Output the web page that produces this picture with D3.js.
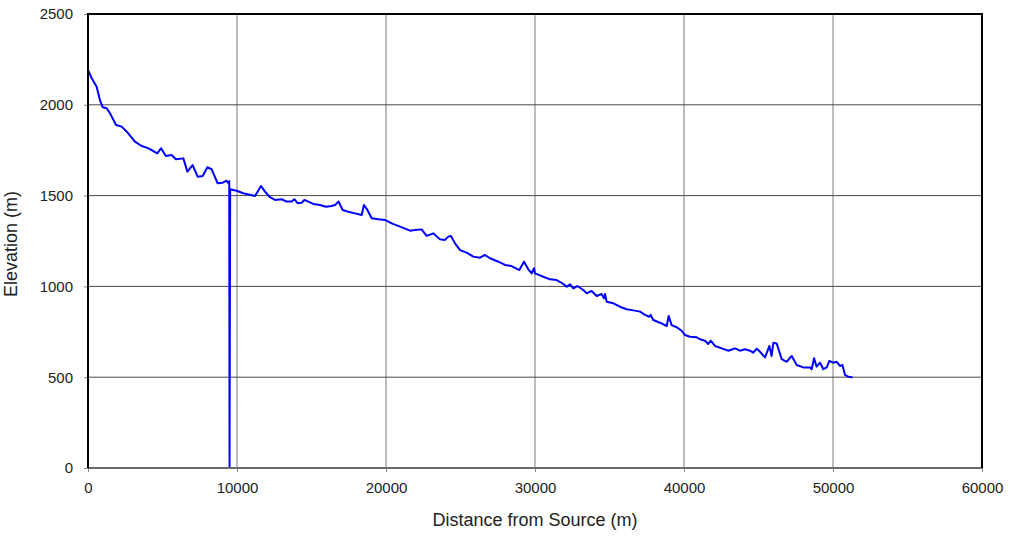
<!DOCTYPE html>
<html>
<head>
<meta charset="utf-8">
<script src="https://cdn.jsdelivr.net/npm/d3@7"></script>
<style>
  body { margin: 0; background: #fff; }
  text { font-family: "Liberation Sans", Arial, sans-serif; fill: #222; }
</style>
</head>
<body>
<div id="chart"></div>
<script>
// Elevation profile
const distance = [0, 250, 580, 800, 990, 1250, 1480, 1880, 2260, 2600, 3150, 3600, 3940, 4270, 4650, 4900,
  5230, 5610, 5900, 6400, 6670, 7020, 7360, 7700, 8010, 8300, 8700, 9040, 9300, 9420, 9480, 9500, 9540,
  9980, 10420, 11210, 11610, 11880, 12210, 12550, 13000, 13330, 13670, 13850, 14070, 14340, 14520, 14790,
  15120, 15570, 15970, 16350, 16580, 16820, 17090, 17470, 17920, 18370, 18520, 18750, 19040, 19490, 19930,
  20380, 20940, 21610, 21950, 22390, 22730, 23180, 23620, 23960, 24180, 24360, 24630, 24970, 25410, 25860,
  26310, 26640, 26980, 27540, 27990, 28430, 28950, 29260, 29550, 29780, 29930, 30000, 30560, 31010, 31450,
  31790, 32130, 32350, 32570, 32840, 33240, 33470, 33800, 34140, 34470, 34630, 34700, 34810, 35260, 35700,
  36150, 36600, 37050, 37380, 37670, 37760, 37940, 38390, 38840, 38970, 39170, 39510, 39840, 40070, 40400,
  40850, 41070, 41410, 41630, 41790, 42080, 42530, 42980, 43420, 43760, 44090, 44430, 44650, 44880, 45100,
  45440, 45730, 45880, 46000, 46220, 46560, 46890, 47230, 47560, 48010, 48460, 48570, 48730, 48900, 49130,
  49350, 49580, 49750, 50020, 50250, 50470, 50630, 50810, 51030, 51320];
const elevation = [2192, 2146, 2100, 2026, 1986, 1981, 1953, 1889, 1880, 1852, 1797, 1773, 1764, 1751, 1733, 1760,
  1718, 1724, 1700, 1705, 1632, 1668, 1604, 1608, 1656, 1645, 1568, 1571, 1582, 1568, 1580, 0, 1535,
  1527, 1513, 1498, 1553, 1522, 1491, 1476, 1480, 1467, 1467, 1480, 1458, 1461, 1476, 1467,
  1454, 1448, 1439, 1443, 1448, 1467, 1421, 1411, 1402, 1393, 1448, 1421, 1375, 1370, 1366,
  1347, 1329, 1307, 1311, 1314, 1278, 1292, 1259, 1256, 1274, 1278, 1237, 1200, 1186, 1164,
  1158, 1173, 1155, 1136, 1118, 1112, 1090, 1136, 1094, 1072, 1100, 1072, 1053, 1039, 1035,
  1020, 998, 1011, 989, 1002, 980, 962, 975, 947, 958, 934, 958, 916, 907, 888,
  874, 868, 861, 843, 833, 843, 815, 800, 782, 837, 787, 775, 756, 732, 723,
  720, 709, 701, 683, 701, 672, 659, 646, 659, 646, 654, 646, 635, 657, 640,
  609, 672, 617, 690, 686, 599, 585, 617, 567, 554, 554, 544, 604, 558, 580,
  544, 554, 589, 580, 585, 562, 567, 512, 503, 499];
const xTicks = [0, 10000, 20000, 30000, 40000, 50000, 60000];
const yTicks = [0, 500, 1000, 1500, 2000, 2500];

const W = 1015, H = 536;
const margin = { top: 14, right: 33, bottom: 68, left: 88 };
const iw = W - margin.left - margin.right;
const ih = H - margin.top - margin.bottom;

const svg = d3.select('#chart').append('svg')
    .attr('width', W)
    .attr('height', H);

const g = svg.append('g')
    .attr('transform', `translate(${margin.left},${margin.top})`);

const x = d3.scaleLinear().domain([0, 60000]).range([0, iw]);
const y = d3.scaleLinear().domain([0, 2500]).range([ih, 0]);

// grid
g.append('g')
    .selectAll('line')
    .data(xTicks.slice(1, -1))
    .enter()
    .append('line')
    .attr('x1', d => x(d)).attr('x2', d => x(d))
    .attr('y1', 0).attr('y2', ih)
    .attr('stroke', '#7a7a7a')
    .attr('stroke-width', 1);

g.append('g')
    .selectAll('line')
    .data(yTicks.slice(1, -1))
    .enter()
    .append('line')
    .attr('x1', 0).attr('x2', iw)
    .attr('y1', d => y(d)).attr('y2', d => y(d))
    .attr('stroke', '#4a4a4a')
    .attr('stroke-width', 1);

// axes
const xAxis = g.append('g')
    .attr('transform', `translate(0,${ih})`)
    .call(d3.axisBottom(x).tickValues(xTicks).tickSize(4).tickSizeOuter(0).tickFormat(d3.format('d')));
xAxis.select('.domain').remove();
xAxis.selectAll('line').attr('stroke', '#888');
xAxis.selectAll('text')
    .attr('font-size', 15)
    .attr('y', 25)
    .attr('dy', 0);

const yAxis = g.append('g')
    .call(d3.axisLeft(y).tickValues(yTicks).tickSize(4).tickSizeOuter(0).tickFormat(d3.format('d')));
yAxis.select('.domain').remove();
yAxis.selectAll('line').attr('stroke', '#888');
yAxis.selectAll('text').attr('font-size', 15).attr('x', -15);

// data line
const line = d3.line()
    .x((d, i) => x(distance[i]))
    .y(d => y(d));

g.append('path')
    .datum(elevation)
    .attr('d', line)
    .attr('fill', 'none')
    .attr('stroke', '#0000ff')
    .attr('stroke-width', 2)
    .attr('stroke-linejoin', 'round');

// frame
g.append('line')
    .attr('x1', 0).attr('x2', iw).attr('y1', ih).attr('y2', ih)
    .attr('stroke', '#6b6b6b').attr('stroke-width', 2);
g.append('path')
    .attr('d', `M0,${ih}V0H${iw}V${ih}`)
    .attr('fill', 'none')
    .attr('stroke', '#000')
    .attr('stroke-width', 2);

// axis titles
svg.append('text')
    .attr('x', margin.left + iw / 2)
    .attr('y', 526)
    .attr('text-anchor', 'middle')
    .attr('font-size', 18)
    .text('Distance from Source (m)');

svg.append('text')
    .attr('transform', `translate(17,${margin.top + ih / 2 + 3}) rotate(-90)`)
    .attr('text-anchor', 'middle')
    .attr('font-size', 18)
    .text('Elevation (m)');
</script>
</body>
</html>
